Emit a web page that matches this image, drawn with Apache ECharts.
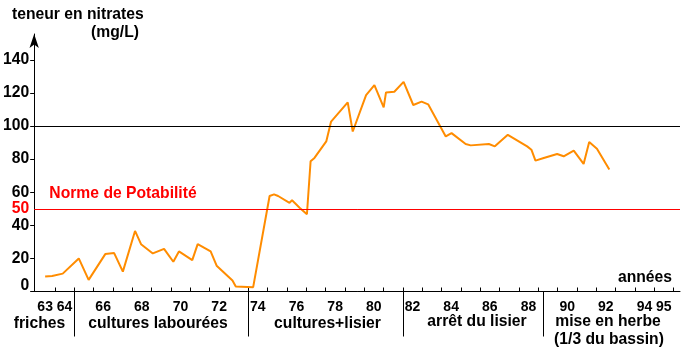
<!DOCTYPE html>
<html><head><meta charset="utf-8">
<script src="https://cdn.jsdelivr.net/npm/echarts@6/dist/echarts.min.js"></script>
<style>html,body{margin:0;padding:0;background:#fff}#c{width:684px;height:357px}</style>
</head><body><div id="c"></div>
<script>
// ---- data ----
const years = [63.0,63.36,63.91,64.74,65.25,66.11,66.57,67.02,67.65,67.96,68.57,69.15,69.63,69.92,70.61,70.89,71.56,71.87,72.69,72.86,73.76,
  74.61,74.84,75.05,75.64,75.77,76.16,76.54,76.73,76.93,77.54,77.79,78.65,78.91,79.60,80.03,80.51,80.63,81.06,81.54,
  82.04,82.47,82.81,83.72,84.02,84.75,85.01,85.95,86.26,86.93,87.93,88.15,88.36,88.79,89.48,89.82,90.34,90.85,91.14,91.54,92.18];
const nitrates = [9.0,9.4,10.8,20.0,7.0,22.6,23.2,12.0,36.6,28.6,23.0,25.8,18.0,24.2,19.0,28.6,24.2,15.6,6.6,3.0,2.6,
  57.7,58.7,57.7,53.6,55.1,50.6,46.7,78.7,80.7,90.7,102.7,114.3,96.7,118.7,124.7,111.3,120.3,120.7,126.7,
  112.7,114.7,113.1,93.7,95.7,89.1,88.3,89.1,87.7,94.7,87.7,85.7,79.1,80.7,83.1,81.7,85.1,77.1,90.3,86.3,73.7];
const yTickLabels = [0,20,40,50,60,80,100,120,140];
const xTickLabels = [63,64,66,68,70,72,74,76,78,80,82,84,86,88,90,92,94,95];
const xMinorTicks = [63.5,64.5,65.5,66.5,67.5,68.5,69.5,70.5,71.5,72.5,73.5,74.5,75.5,76.5,77.5,78.5,79.5,80.5,81.5,82.5,83.5,84.5,85.5,86.5,87.5,88.5,89.5,90.5,91.5,92.5,93.5,94.5,95.5];
const periodBounds = [64.5,73.5,81.5,88.75];
const periodNames = ['friches','cultures labourées','cultures+lisier','arrêt du lisier','mise en herbe','(1/3 du bassin)'];
const limitValue = 50;
const refValue = 100;
const yTitle = ['teneur en nitrates','(mg/L)'];
const xTitle = 'années';
const limitText = 'Norme de Potabilité';

const FONT = 'bold 15.7px "Liberation Sans", Arial, sans-serif';
const chart = echarts.init(document.getElementById('c'), null, {renderer:'canvas'});
const pairs = years.map((y,i)=>[y, nitrates[i]]);

const textEl = (t, x, y, fill, align) => ({type:'text', x, y, silent:true,
  style:{text:t, font:FONT, fill:fill||'#000', align:align||'center', verticalAlign:'middle'}});

chart.setOption({
  animation:false,
  backgroundColor:'#fff',
  grid:{left:32, right:4, top:34, bottom:65.5, containLabel:false},
  xAxis:{type:'value', min:62.433, max:95.836,
    axisLine:{lineStyle:{color:'#000', width:1}},
    axisTick:{inside:true, length:4, customValues:xMinorTicks, lineStyle:{color:'#000'}},
    axisLabel:{customValues:xTickLabels, color:'#000', margin:9,
      fontFamily:'"Liberation Sans Narrow","Liberation Sans",Arial,sans-serif', fontWeight:'bold', fontSize:14},
    splitLine:{show:false}},
  yAxis:{type:'value', min:0, max:155.6,
    axisLine:{show:true, symbol:['none','arrow'], symbolSize:[7,14], lineStyle:{color:'#000', width:1}},
    axisTick:{show:true, length:4, customValues:[0,20,40,60,80,100,120,140], lineStyle:{color:'#000'}},
    axisLabel:{customValues:yTickLabels, margin:5, color:'#000',
      fontFamily:'"Liberation Sans",Arial,sans-serif', fontWeight:'bold', fontSize:15.7,
      formatter:v => v===limitValue ? '{r|'+v+'}' : (v===0 ? '{z|0}' : String(v)),
      rich:{r:{color:'#ff0000', fontWeight:'bold', fontSize:15.7, fontFamily:'"Liberation Sans",Arial,sans-serif'},
            z:{color:'#000', fontWeight:'bold', fontSize:15.7, fontFamily:'"Liberation Sans",Arial,sans-serif', padding:[0,0,11,0]}}},
    splitLine:{show:false}},
  series:[{type:'line', data:pairs, showSymbol:false, symbol:'none',
    lineStyle:{color:'#ff8c00', width:2}, z:3,
    markLine:{silent:true, symbol:'none', label:{show:false}, animation:false,
      data:[{yAxis:refValue, lineStyle:{color:'#000', width:1, type:'solid'}},
            {yAxis:limitValue, lineStyle:{color:'#ff0000', width:1, type:'solid'}}]}}]
});

// separators and texts
const sepY0 = chart.convertToPixel({yAxisIndex:0}, 0);
const graphics = periodBounds.map(b => {
  const px = Math.round(chart.convertToPixel({xAxisIndex:0}, b)) + 0.5;
  return {type:'line', silent:true, shape:{x1:px, y1:sepY0, x2:px, y2:sepY0+45}, style:{stroke:'#000', lineWidth:1}};
});
graphics.push(textEl(yTitle[0], 12, 15, '#000', 'left'));
graphics.push(textEl(yTitle[1], 115, 33));
graphics.push(textEl(limitText, 123, 194, '#ff0000'));
graphics.push(textEl(xTitle, 645, 278));
graphics.push(textEl(periodNames[0], 39.5, 324));
graphics.push(textEl(periodNames[1], 158, 324));
graphics.push(textEl(periodNames[2], 327.5, 324));
graphics.push(textEl(periodNames[3], 477, 322));
graphics.push(textEl(periodNames[4], 608, 322));
graphics.push(textEl(periodNames[5], 609, 340));
chart.setOption({graphic:graphics});
</script></body></html>
